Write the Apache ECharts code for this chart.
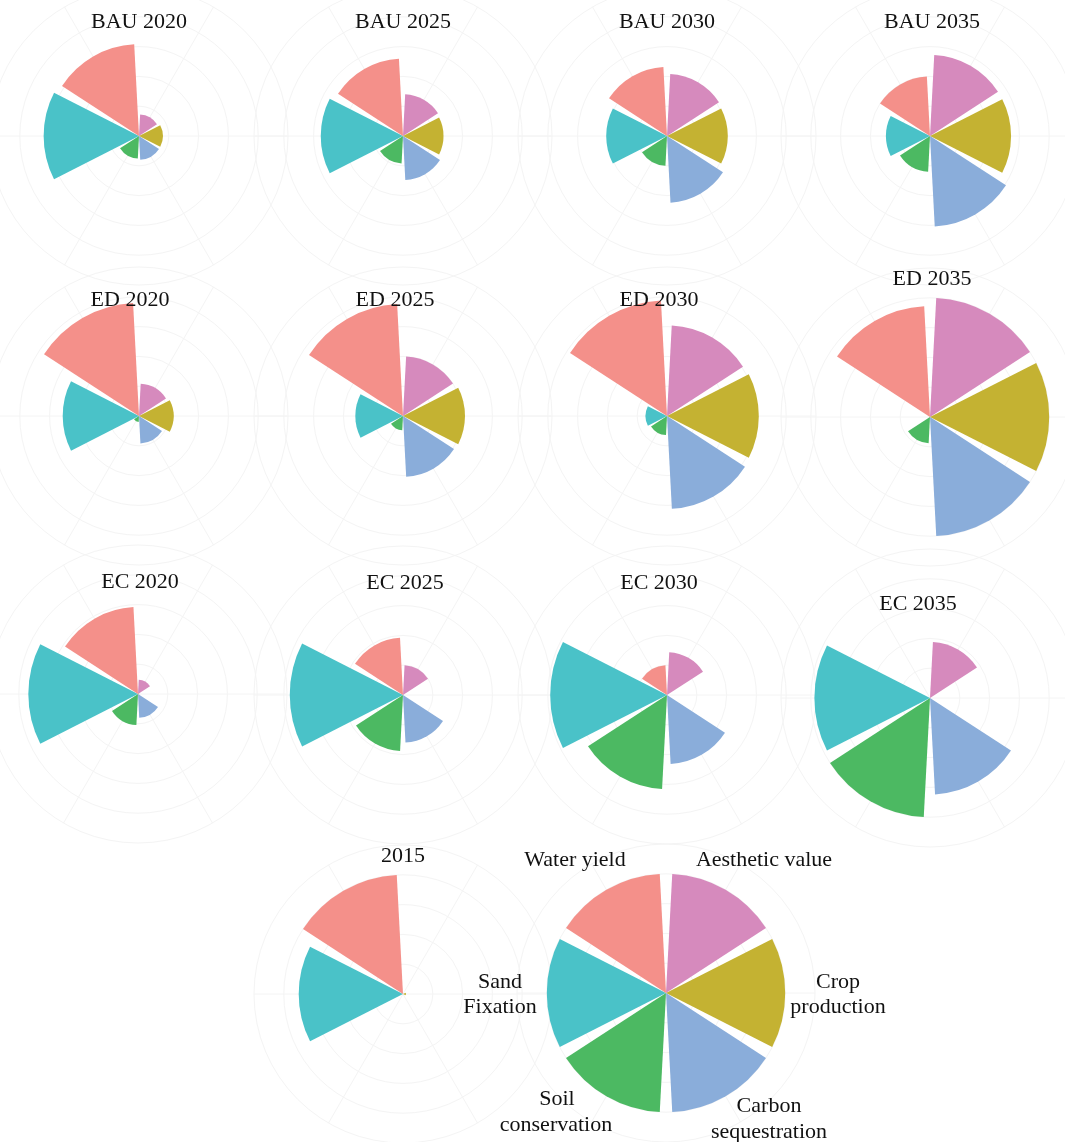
<!DOCTYPE html>
<html>
<head>
<meta charset="utf-8">
<script src="https://cdn.jsdelivr.net/npm/echarts@6/dist/echarts.min.js"></script>
<style>
  html, body { margin: 0; background: #fff; }
  #chart { width: 1065px; height: 1142px; }
</style>
</head>
<body>
<div id="chart"></div>
<script>
// ecosystem services, clockwise from the top
const services = ['Aesthetic value', 'Crop production', 'Carbon sequestration', 'Soil conservation', 'Sand Fixation', 'Water yield']
const serviceColors = ['#D68ABD', '#C4B232', '#8AADDA', '#4CB962', '#4AC2C8', '#F4908A']

// normalized values (1 = max of each service), same order as services
const bau2020 = [0.18, 0.20, 0.20, 0.19, 0.80, 0.77]
const bau2025 = [0.35, 0.34, 0.37, 0.23, 0.69, 0.65]
const bau2030 = [0.52, 0.51, 0.56, 0.25, 0.51, 0.58]
const bau2035 = [0.68, 0.68, 0.76, 0.30, 0.37, 0.50]
const ed2020 = [0.27, 0.29, 0.23, 0.05, 0.64, 0.95]
const ed2025 = [0.50, 0.52, 0.51, 0.12, 0.40, 0.94]
const ed2030 = [0.76, 0.77, 0.78, 0.16, 0.18, 0.97]
const ed2035 = [1.00, 1.00, 1.00, 0.22, 0, 0.93]
const ec2020 = [0.12, 0.01, 0.20, 0.26, 0.92, 0.73]
const ec2025 = [0.25, 0, 0.40, 0.47, 0.95, 0.48]
const ec2030 = [0.36, 0, 0.58, 0.79, 0.98, 0.25]
const ec2035 = [0.47, 0, 0.81, 1.00, 0.97, 0]
const base2015 = [0, 0.025, 0, 0, 0.875, 1.00]
const legendValues = [1, 1, 1, 1, 1, 1]

const ringTicks = [0, 0.25, 0.5, 0.75, 1, 1.25]

const panels = [
  { title: 'BAU 2020', values: bau2020, center: [139, 136], titleAt: [139, 22] },
  { title: 'BAU 2025', values: bau2025, center: [403, 136], titleAt: [403, 22] },
  { title: 'BAU 2030', values: bau2030, center: [667, 136], titleAt: [667, 22] },
  { title: 'BAU 2035', values: bau2035, center: [930, 136], titleAt: [932, 22] },
  { title: 'ED 2020', values: ed2020, center: [139, 416], titleAt: [130, 300] },
  { title: 'ED 2025', values: ed2025, center: [403, 416], titleAt: [395, 300] },
  { title: 'ED 2030', values: ed2030, center: [667, 416], titleAt: [659, 300] },
  { title: 'ED 2035', values: ed2035, center: [930, 417], titleAt: [932, 279] },
  { title: 'EC 2020', values: ec2020, center: [138, 694], titleAt: [140, 582] },
  { title: 'EC 2025', values: ec2025, center: [403, 695], titleAt: [405, 583] },
  { title: 'EC 2030', values: ec2030, center: [667, 695], titleAt: [659, 583] },
  { title: 'EC 2035', values: ec2035, center: [930, 698], titleAt: [918, 604] },
  { title: '2015', values: base2015, center: [403, 994], titleAt: [403, 856] },
  { title: '', values: legendValues, center: [666, 993], titleAt: null }
]

const legendLabels = [
  { text: 'Water yield', at: [575, 860] },
  { text: 'Aesthetic value', at: [764, 860] },
  { text: 'Crop', at: [838, 982] },
  { text: 'production', at: [838, 1007] },
  { text: 'Carbon', at: [769, 1106] },
  { text: 'sequestration', at: [769, 1132] },
  { text: 'Soil', at: [557, 1099] },
  { text: 'conservation', at: [556, 1125] },
  { text: 'Sand', at: [500, 982] },
  { text: 'Fixation', at: [500, 1007] }
]

const RADIUS = 149
const GRID_COLOR = '#f4f4f4'
const FONT = '22px "Liberation Serif", "Times New Roman", serif'

function textItem(text, x, y) {
  return {
    type: 'text',
    silent: true,
    z: 100,
    style: {
      text,
      x,
      y,
      font: FONT,
      fill: '#111',
      textAlign: 'center',
      textVerticalAlign: 'middle',
    },
  }
}

function initChart() {
  const chart = echarts.init(document.getElementById('chart'), null, { renderer: 'canvas' })

  const polar = []
  const angleAxis = []
  const radiusAxis = []
  const series = []
  const graphic = []

  // data polars: rings + bars
  panels.forEach((panel, i) => {
    polar.push({ center: panel.center, radius: RADIUS })
    angleAxis.push({
      polarIndex: i,
      type: 'category',
      data: services,
      startAngle: 90,
      clockwise: true,
      axisLine: { show: false },
      axisTick: { show: false },
      axisLabel: { show: false },
      splitLine: { show: false },
    })
    radiusAxis.push({
      polarIndex: i,
      type: 'value',
      min: ringTicks[0],
      max: ringTicks[ringTicks.length - 1],
      interval: ringTicks[1] - ringTicks[0],
      axisLine: { show: false },
      axisTick: { show: false },
      axisLabel: { show: false },
      splitLine: { show: true, lineStyle: { color: GRID_COLOR, width: 1 } },
    })
    series.push({
      type: 'bar',
      coordinateSystem: 'polar',
      polarIndex: i,
      barCategoryGap: '10%',
      silent: true,
      data: panel.values.map((v, j) => ({ value: v, itemStyle: { color: serviceColors[j] } })),
    })
    if (panel.title) {
      graphic.push(textItem(panel.title, panel.titleAt[0], panel.titleAt[1]))
    }
  })

  // spoke polars: radial lines through the middle of each category
  panels.forEach((panel, i) => {
    const idx = panels.length + i
    polar.push({ center: panel.center, radius: RADIUS })
    angleAxis.push({
      polarIndex: idx,
      type: 'category',
      data: services,
      startAngle: 120,
      clockwise: true,
      axisLine: { show: false },
      axisTick: { show: false },
      axisLabel: { show: false },
      splitLine: { show: true, lineStyle: { color: GRID_COLOR, width: 1 } },
    })
    radiusAxis.push({
      polarIndex: idx,
      type: 'value',
      min: 0,
      max: 1,
      axisLine: { show: false },
      axisTick: { show: false },
      axisLabel: { show: false },
      splitLine: { show: false },
    })
  })

  legendLabels.forEach((label) => {
    graphic.push(textItem(label.text, label.at[0], label.at[1]))
  })

  chart.setOption({
    animation: false,
    backgroundColor: '#fff',
    polar,
    angleAxis,
    radiusAxis,
    series,
    graphic,
  })
}

initChart()
</script>
</body>
</html>
